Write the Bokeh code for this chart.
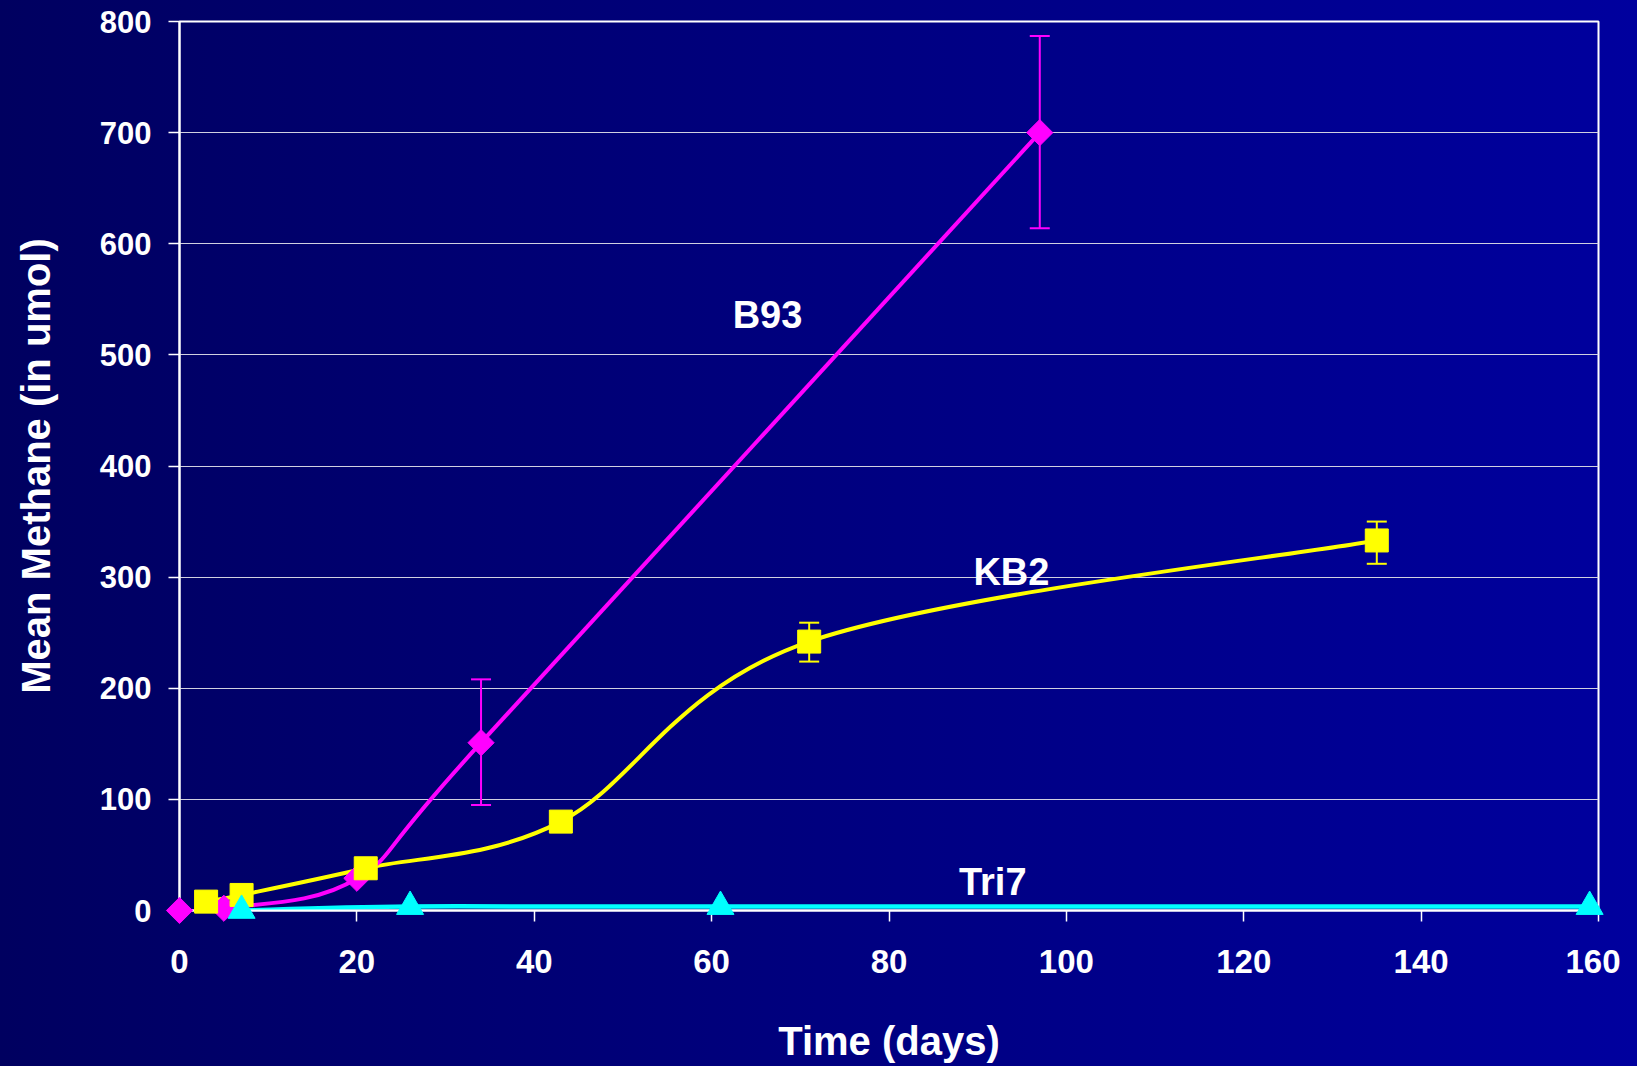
import numpy as np
from bokeh.plotting import figure
from bokeh.models import Whisker, ColumnDataSource, Range1d, FixedTicker, TeeHead
from bokeh.core.properties import value
from bokeh.embed import file_html
from bokeh.resources import INLINE

# ---------------- data ----------------
b93_days = [0, 5, 20, 34, 97]
b93_methane = [0, 2, 29, 151, 700]
b93_err_days = [34, 97]
b93_err_lower = [95, 614]
b93_err_upper = [208, 787]

kb2_days = [3, 7, 21, 43, 71, 135]
kb2_methane = [8, 14, 38, 80, 242, 333]
kb2_err_days = [71, 135]
kb2_err_lower = [224, 312]
kb2_err_upper = [259, 350]

tri7_days = [7, 26, 61, 159]
tri7_methane = [0, 3.5, 3.5, 3.5]

x_ticks = [0, 20, 40, 60, 80, 100, 120, 140, 160]
y_ticks = [0, 100, 200, 300, 400, 500, 600, 700, 800]

series_names = ["B93", "KB2", "Tri7"]

MAGENTA = "#FF00FF"
YELLOW = "#FFFF00"
CYAN = "#00FFFF"
FONT = "Liberation Sans"


def smooth_segments(xs, ys):
    """Bezier control points for a smoothed line through the data points."""
    x = np.asarray(xs, float)
    y = np.asarray(ys, float)
    n = len(x)
    i = np.arange(n - 1)
    im1 = np.maximum(i - 1, 0)
    ip2 = np.minimum(i + 2, n - 1)
    cx0 = x[i] + (x[i + 1] - x[im1]) / 6.0
    cy0 = y[i] + (y[i + 1] - y[im1]) / 6.0
    cx1 = x[i + 1] - (x[ip2] - x[i]) / 6.0
    cy1 = y[i + 1] - (y[ip2] - y[i]) / 6.0
    return dict(x0=x[:-1], y0=y[:-1], x1=x[1:], y1=y[1:],
                cx0=cx0, cy0=cy0, cx1=cx1, cy1=cy1)


p = figure(width=1620, height=1066, output_backend="svg", toolbar_location=None,
           x_range=Range1d(0, 160), y_range=Range1d(0, 800),
           min_border_left=179, min_border_right=22,
           min_border_top=21, min_border_bottom=156)

p.background_fill_color = None
p.border_fill_color = None
p.outline_line_color = "white"
p.outline_line_width = 2

p.xgrid.visible = False
p.ygrid.grid_line_color = "#d0d0e0"
p.ygrid.grid_line_width = 1

p.xaxis.ticker = FixedTicker(ticks=x_ticks)
p.yaxis.ticker = FixedTicker(ticks=y_ticks)

for ax in (p.xaxis[0], p.yaxis[0]):
    ax.axis_line_color = "white"
    ax.axis_line_width = 2
    ax.major_tick_line_color = "white"
    ax.major_tick_line_width = 1.5
    ax.major_tick_in = 0
    ax.major_tick_out = 11
    ax.minor_tick_line_color = None
    ax.major_label_text_color = "white"
    ax.major_label_text_font = FONT
    ax.major_label_text_font_style = "bold"
    ax.axis_label_text_color = "white"
    ax.axis_label_text_font = FONT
    ax.axis_label_text_font_style = "bold"
    ax.axis_label_text_font_size = "40px"

p.xaxis.axis_label = "Time (days)"
p.yaxis.axis_label = "Mean Methane (in umol)"
p.xaxis.major_label_text_font_size = "33px"
p.yaxis.major_label_text_font_size = "31px"
p.xaxis.major_label_standoff = 28
p.yaxis.major_label_standoff = 17
p.xaxis.axis_label_standoff = 43
p.yaxis.axis_label_standoff = 39

# ---------------- smoothed lines ----------------
p.bezier(source=ColumnDataSource(smooth_segments(kb2_days, kb2_methane)),
         x0="x0", y0="y0", x1="x1", y1="y1", cx0="cx0", cy0="cy0", cx1="cx1", cy1="cy1",
         line_color=YELLOW, line_width=4)
p.bezier(source=ColumnDataSource(smooth_segments(tri7_days, tri7_methane)),
         x0="x0", y0="y0", x1="x1", y1="y1", cx0="cx0", cy0="cy0", cx1="cx1", cy1="cy1",
         line_color=CYAN, line_width=4.5)
p.bezier(source=ColumnDataSource(smooth_segments(b93_days, b93_methane)),
         x0="x0", y0="y0", x1="x1", y1="y1", cx0="cx0", cy0="cy0", cx1="cx1", cy1="cy1",
         line_color=MAGENTA, line_width=4)

# ---------------- error bars ----------------
for days, lo, hi, col in ((b93_err_days, b93_err_lower, b93_err_upper, MAGENTA),
                          (kb2_err_days, kb2_err_lower, kb2_err_upper, YELLOW)):
    src = ColumnDataSource(dict(x=days, lower=lo, upper=hi))
    w = Whisker(base="x", lower="lower", upper="upper", source=src,
                line_color=col, line_width=2,
                upper_head=TeeHead(size=20, line_color=col, line_width=2),
                lower_head=TeeHead(size=20, line_color=col, line_width=2))
    p.add_layout(w)

# ---------------- markers ----------------
p.scatter(b93_days, b93_methane, marker="square", angle=np.pi / 4, size=18.5,
          fill_color=MAGENTA, line_color=MAGENTA, level="overlay")
p.scatter(kb2_days, kb2_methane, marker="square", size=23,
          fill_color=YELLOW, line_color=YELLOW, level="overlay")
p.scatter(tri7_days, tri7_methane, marker="triangle", size=27,
          fill_color=CYAN, line_color=CYAN, level="overlay")

# ---------------- series labels ----------------
label_x = [66.3, 93.8, 91.7]
label_y = [536, 305, 26]
p.text(x=label_x, y=label_y, text=series_names, text_color="white",
       text_font=value(FONT), text_font_style="bold", text_font_size="38px",
       text_align="center", text_baseline="middle")

html = file_html(p, INLINE)
style = ("<style>html,body{min-height:100%;margin:0;"
         "background:linear-gradient(to right,#000060,#00009e);}</style>")
html = html.replace("</head>", style + "</head>", 1)
open("out.html", "w").write(html)
